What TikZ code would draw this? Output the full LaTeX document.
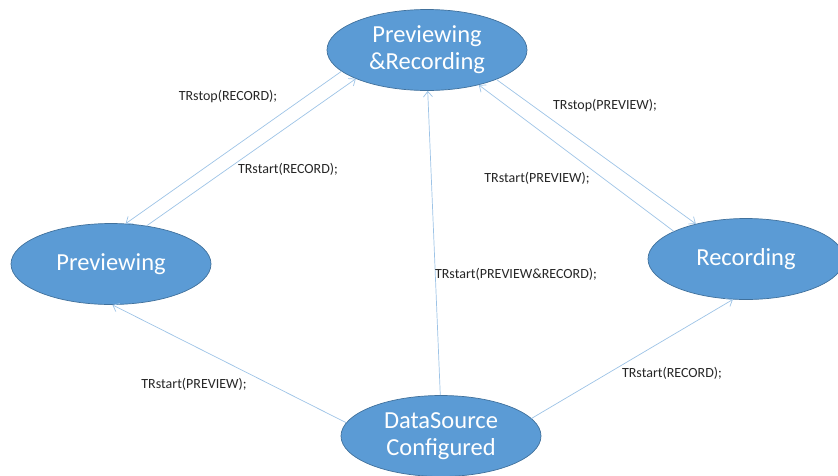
\documentclass[tikz,border=0pt]{standalone}
\usepackage{fontspec}
\setmainfont{Carlito}
\usetikzlibrary{arrows.meta,shapes.geometric}
\definecolor{stfill}{HTML}{5B9BD5}
\definecolor{stline}{HTML}{41719C}
\definecolor{arr}{HTML}{9DC3E6}
\begin{document}
\begin{tikzpicture}[x=1pt,y=-1pt,
  state/.style={ellipse,draw=stline,line width=0.7pt,fill=stfill,text=white,
    minimum width=200pt,minimum height=81pt,inner sep=0pt,align=center,
    font=\fontsize{24.5}{27}\selectfont},
  lbl/.style={text=black!85,font=\fontsize{14}{16}\selectfont,inner sep=0pt},
  tr/.style={draw=arr,line width=0.7pt,-{Straight Barb[length=5.5pt,width=9pt]}}]
\useasboundingbox (0,0) rectangle (838,475);
\node[state] (PR) at (427,50) {Previewing\\\&Recording};
\node[state] (PV) at (111,264) {Previewing};
\node[state,minimum width=196pt] (RC) at (746,259) {Recording};
\node[state] (DS) at (441,436) {DataSource\\Configured};
\draw[tr] (PR.194) -- (PV.70);
\draw[tr] (PV.47) -- (PR.202);
\draw[tr] (PR.337) -- (RC.145);
\draw[tr] (RC.159) -- (PR.326);
\draw[tr] (DS.91) -- (PR.271);
\draw[tr] (DS.172) -- (PV.272);
\draw[tr] (DS.11) -- (RC.252);
\node[lbl] (l1) at (228,97) {TRstop(RECORD);};
\node[lbl] (l2) at (288,169) {TRstart(RECORD);};
\node[lbl] (l3) at (605,106) {TRstop(PREVIEW);};
\node[lbl] (l4) at (537,178) {TRstart(PREVIEW);};
\node[lbl] (l5) at (516,274) {TRstart(PREVIEW\&RECORD);};
\node[lbl] (l6) at (194,384) {TRstart(PREVIEW);};
\node[lbl] (l7) at (672,373) {TRstart(RECORD);};
\end{tikzpicture}
\end{document}
